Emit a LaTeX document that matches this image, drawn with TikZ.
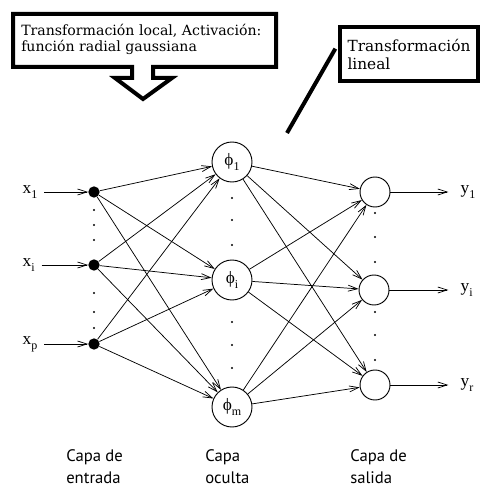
\documentclass[tikz,border=0pt]{standalone}
\usepackage{fontspec}
\setmainfont{Liberation Serif}
\newfontfamily\boxfont{DejaVu Serif}
\newfontfamily\capfont{PT Sans}
\usetikzlibrary{arrows.meta}

\newcommand{\lowsub}[2]{#1\raisebox{-0.6ex}{\fontsize{9}{9}\selectfont #2}}

\begin{document}
\begin{tikzpicture}[x=0.75pt,y=-0.75pt,
  innode/.style={circle,fill=black,inner sep=0pt,minimum size=8.5pt},
  hidnode/.style={circle,draw,line width=0.7pt,minimum size=30pt,inner sep=0pt,font=\fontsize{13}{13}\selectfont},
  outnode/.style={circle,draw,line width=0.7pt,minimum size=22.5pt,inner sep=0pt},
  conn/.style={-{Straight Barb[length=7pt,width=4.5pt]},line width=0.55pt},
  lbl/.style={font=\fontsize{13}{13}\selectfont,inner sep=1pt},
  layer/.style={font=\capfont\fontsize{12.5}{16.5}\selectfont,align=left,anchor=north west,inner sep=0pt},
  talk/.style={font=\boxfont\fontsize{10.6}{12}\selectfont,align=left,inner sep=0pt}]
\useasboundingbox (0,0) rectangle (485,488);

% callout above the hidden layer
\draw[line width=3pt,line join=miter] (153,67) -- (276,67) -- (276,14) -- (13,14) -- (13,67) -- (132,67) -- (132,78) -- (115,78) -- (143,99) -- (172,78) -- (153,78) -- cycle;
\node[talk,anchor=north west] (ctext) at (21,24) {Transformación local, Activación:\\función radial gaussiana};

\node[talk,draw,line width=3pt,minimum width=103.5pt,minimum height=40.5pt,font=\boxfont\fontsize{11.5}{13.5}\selectfont] (lineal) at (409,54) {Transformación\\lineal};
\coordinate (lt) at (287,133);
\draw[line width=3pt] ([xshift=-2pt,yshift=4pt]lineal.west) -- (lt);

% input layer
\node[innode] (in1) at (94,192) {};
\node[innode] (ini) at (94,265) {};
\node[innode] (inp) at (94,344) {};
\node[lbl,anchor=west] (x1) at (21,192) {\lowsub{x}{1}};
\node[lbl,anchor=west] (xi) at (21,265) {\lowsub{x}{i}};
\node[lbl,anchor=west] (xp) at (21,344) {\lowsub{x}{p}};
\foreach \a/\b in {x1/in1,xi/ini,xp/inp}
  \draw[conn,shorten <=4pt] (\a.east |- \b) -- (\b);

% hidden layer
\node[hidnode] (h1) at (232,162) {\lowsub{ϕ}{1}};
\node[hidnode] (hi) at (232,280) {\lowsub{ϕ}{i}};
\node[hidnode] (hm) at (232,407) {\lowsub{ϕ}{m}};

% output layer
\node[outnode] (o1) at (375,192) {};
\node[outnode] (oi) at (374,290) {};
\node[outnode] (or) at (375,385) {};
\node[lbl,anchor=west] (y1) at (459,192) {\lowsub{y}{1}};
\node[lbl,anchor=west] (yi) at (459,290) {\lowsub{y}{i}};
\node[lbl,anchor=west] (yr) at (459,385) {\lowsub{y}{r}};
\foreach \a/\b in {o1/y1,oi/yi,or/yr}
  \draw[conn,shorten >=8pt] (\a) -- (\a -| \b.west);

% connections
\foreach \a in {in1,ini,inp}
  \foreach \b in {h1,hi,hm}
    \draw[conn] (\a) -- (\b);
\foreach \a in {h1,hi,hm}
  \foreach \b in {o1,oi,or}
    \draw[conn] (\a) -- (\b);

% dotted columns
\foreach \y in {210,225,240,293,312,328}
  \fill (94,\y) circle (0.8pt);
\foreach \y in {198,220,245,322,345,368}
  \fill (232,\y) circle (0.8pt);
\foreach \y in {213,237,262,312,335,360}
  \fill (375,\y) circle (0.8pt);

% layer names
\node[layer] (lin) at (66,449) {Capa de\\entrada};
\node[layer] (lhid) at (205,449) {Capa\\oculta};
\node[layer] (lout) at (350,449) {Capa de\\salida};
\end{tikzpicture}
\end{document}
